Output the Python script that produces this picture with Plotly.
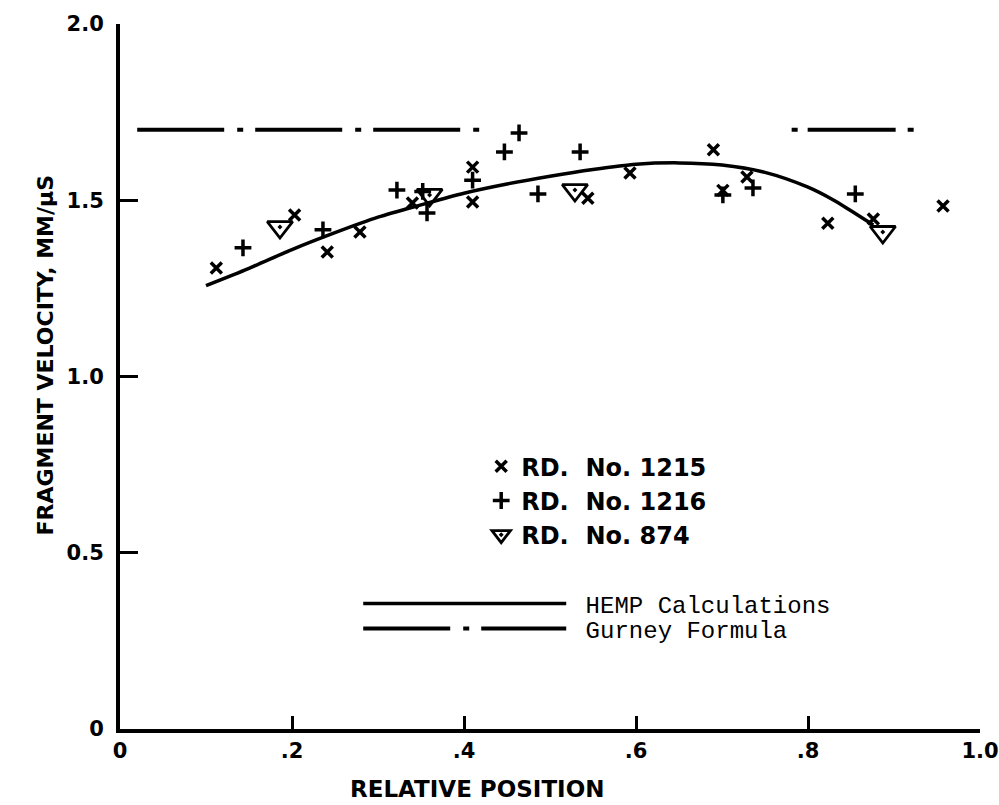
import plotly.graph_objects as go

# ---- data ----
rd1215_x = [0.112, 0.203, 0.241, 0.279, 0.340, 0.410, 0.410, 0.544, 0.593, 0.690, 0.701, 0.729, 0.823, 0.876, 0.957]
rd1215_y = [1.308, 1.458, 1.353, 1.410, 1.492, 1.594, 1.495, 1.506, 1.577, 1.643, 1.528, 1.566, 1.435, 1.447, 1.484]

rd1216_x = [0.143, 0.236, 0.322, 0.352, 0.357, 0.410, 0.447, 0.464, 0.486, 0.535, 0.701, 0.736, 0.855]
rd1216_y = [1.365, 1.416, 1.529, 1.525, 1.464, 1.557, 1.637, 1.691, 1.518, 1.637, 1.515, 1.535, 1.518]

rd874_x = [0.186, 0.360, 0.529, 0.887]
rd874_y = [1.424, 1.515, 1.529, 1.410]

hemp_x = [0.10, 0.15, 0.20, 0.25, 0.30, 0.35, 0.40, 0.45, 0.50, 0.55, 0.60, 0.65, 0.70, 0.75, 0.80, 0.83, 0.85, 0.876]
hemp_y = [1.258, 1.307, 1.360, 1.408, 1.452, 1.487, 1.520, 1.546, 1.568, 1.587, 1.602, 1.606, 1.600, 1.579, 1.537, 1.500, 1.470, 1.430]

gurney_left_x = [0.02, 0.418]
gurney_right_x = [0.781, 0.923]
gurney_v = 1.70

x_ticks = [0, 0.2, 0.4, 0.6, 0.8, 1.0]
x_ticktext = ["0", ".2", ".4", ".6", ".8", "1.0"]
y_ticks = [0, 0.5, 1.0, 1.5, 2.0]
y_ticktext = ["0", "0.5", "1.0", "1.5", "2.0"]

BOLD = "DejaVu Sans"
MONO = "Liberation Mono"

fig = go.Figure()

fig.add_trace(go.Scatter(
    x=hemp_x, y=hemp_y, mode="lines", line=dict(color="black", width=3.5, shape="spline", smoothing=0.8),
    name="\u00a0HEMP Calculations", legend="legend2"))
fig.add_trace(go.Scatter(
    x=gurney_left_x, y=[gurney_v] * len(gurney_left_x), mode="lines",
    line=dict(color="black", width=4, dash="87px,13px,6px,12px"),
    name="\u00a0Gurney Formula", legend="legend3"))
fig.add_trace(go.Scatter(
    x=gurney_right_x, y=[gurney_v] * len(gurney_right_x), mode="lines",
    line=dict(color="black", width=4, dash="6px,10px,88px,12px,6px,200px"),
    showlegend=False))

fig.add_trace(go.Scatter(
    x=rd1215_x, y=rd1215_y, mode="markers", name="RD.\u00a0 No. 1215",
    marker=dict(symbol="x-thin", size=11, color="black", line=dict(color="black", width=3.5)),
    legend="legend", legendrank=1))
fig.add_trace(go.Scatter(
    x=rd1216_x, y=rd1216_y, mode="markers", name="RD.\u00a0 No. 1216",
    marker=dict(symbol="cross-thin", size=12, color="black", line=dict(color="black", width=3.5)),
    legend="legend", legendrank=2))
fig.add_trace(go.Scatter(
    x=rd874_x, y=rd874_y, mode="markers", name="RD.\u00a0 No. 874",
    marker=dict(symbol="triangle-down-open-dot", size=22, color="black", line=dict(color="black", width=2.8)),
    legend="legend", legendrank=3))

axis_common = dict(showgrid=False, zeroline=False, showline=True, linecolor="black", linewidth=4,
                   ticks="inside", tickcolor="black", mirror=False, automargin=False,
                   tickfont=dict(family=BOLD, size=21, color="black", weight="bold"))

line_legend = dict(xanchor="left", yanchor="middle", bgcolor="rgba(0,0,0,0)",
                   font=dict(family=MONO, size=24, color="black"), itemwidth=203)

fig.update_layout(
    width=999, height=805,
    margin=dict(l=120, r=19, t=24, b=76, autoexpand=False),
    paper_bgcolor="white", plot_bgcolor="white",
    xaxis=dict(range=[0, 1.0], tickvals=x_ticks, ticktext=x_ticktext, ticklen=13, tickwidth=3,
               **axis_common),
    yaxis=dict(range=[0, 2.0], tickvals=y_ticks, ticktext=y_ticktext, ticklen=18, tickwidth=3,
               ticklabelstandoff=8, **axis_common),
    legend=dict(x=0.42, y=0.404, xanchor="left", yanchor="top", bgcolor="rgba(0,0,0,0)",
                font=dict(family=BOLD, size=24, color="black", weight="bold"),
                tracegroupgap=0, itemwidth=30),
    legend2=dict(x=0.277, y=(729 - 604) / 705, **line_legend),
    legend3=dict(x=0.277, y=(729 - 629) / 705, **line_legend),
    annotations=[
        dict(text="RELATIVE POSITION", xref="x", yref="paper", x=0.415, y=-0.064,
             xanchor="center", yanchor="top", showarrow=False,
             font=dict(family=BOLD, size=23, color="black", weight="bold")),
        dict(text="FRAGMENT VELOCITY, MM/μS", xref="paper", yref="paper", x=-0.087, y=0.53,
             xanchor="center", yanchor="middle", textangle=-90, showarrow=False,
             font=dict(family=BOLD, size=22, color="black", weight="bold")),
    ],
)

fig.write_html("out.html", config={"displayModeBar": False},
               post_script="document.body.style.margin='0px';")
